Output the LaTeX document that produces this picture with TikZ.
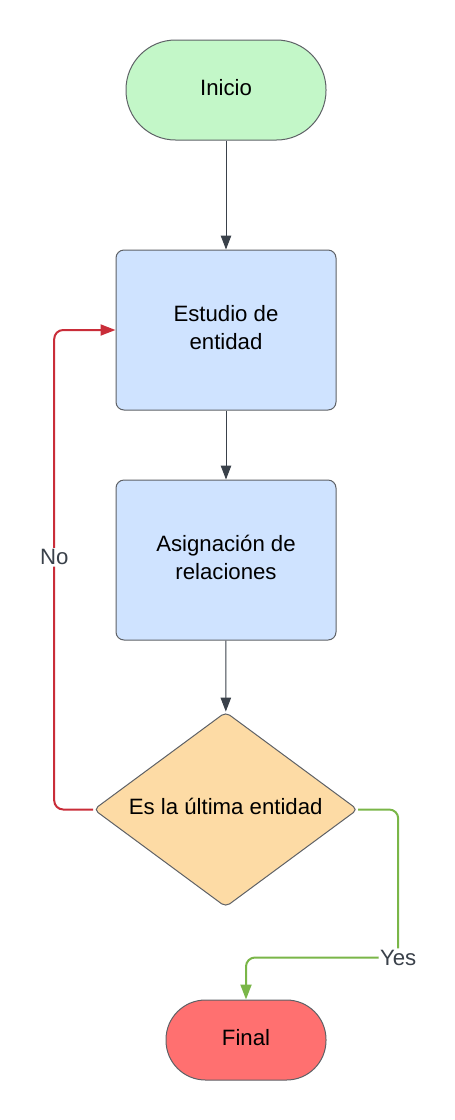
\documentclass[tikz,border=0pt]{standalone}
\usepackage{fontspec}
\setmainfont{Liberation Sans}
\usetikzlibrary{shapes.geometric,arrows.meta}
\definecolor{startfill}{HTML}{C3F7C8}
\definecolor{boxfill}{HTML}{CFE3FF}
\definecolor{decfill}{HTML}{FDDBA5}
\definecolor{endfill}{HTML}{FF7070}
\definecolor{edgegray}{HTML}{5E6166}
\definecolor{linedark}{HTML}{3A414A}
\definecolor{nored}{HTML}{C92D39}
\definecolor{yesgreen}{HTML}{7AB648}
\tikzset{
  basenode/.style={draw=edgegray, line width=1pt, text=black, inner sep=0pt,
    font=\fontsize{22.2}{28}\selectfont, align=center, text depth=6pt},
  terminal/.style={basenode, rectangle},
  process/.style={basenode, rectangle, minimum width=220pt, minimum height=160pt, rounded corners=8pt},
  decision/.style={basenode, diamond, minimum width=264pt, minimum height=195pt, aspect=1.356, rounded corners=5pt},
  flow/.style={draw=linedark, line width=1pt, -{Triangle[width=10.5pt,length=14pt]}},
  noflow/.style={draw=nored, line width=2pt, rounded corners=9pt, -{Triangle[width=11pt,length=15pt]}},
  yesflow/.style={draw=yesgreen, line width=2pt, rounded corners=9pt, -{Triangle[width=11pt,length=15pt]}},
  edgelabel/.style={fill=white, text=linedark, inner sep=1.5pt, font=\fontsize{22.2}{26}\selectfont}
}
\begin{document}
\begin{tikzpicture}[x=1pt,y=-1pt]
\useasboundingbox (0,0) rectangle (455,1120);
\node[terminal, fill=startfill, minimum width=200pt, minimum height=100pt, rounded corners=49.5pt] (inicio) at (226,90) {Inicio};
\node[process, fill=boxfill] (estudio) at (226,330) {Estudio de\\entidad};
\node[process, fill=boxfill] (asig) at (226,560) {Asignación de\\relaciones};
\node[decision, fill=decfill] (dec) at (225.7,809.5) {Es la última entidad};
\node[terminal, fill=endfill, minimum width=160pt, minimum height=80pt, rounded corners=39.5pt] (final) at (246,1040) {Final};

\draw[flow] (inicio) -- (estudio);
\draw[flow] (estudio) -- (asig);
\draw[flow] (asig) -- (dec);
\draw[noflow] (dec.west) -- ++(-39pt,0) |- (estudio.west) node[edgelabel, pos=0.263] {No};
\draw[yesflow] (dec.east) -- ++(40pt,0) |- ([yshift=42pt]final.north) node[edgelabel, pos=0.5] {Yes} -- (final.north);
\end{tikzpicture}
\end{document}
